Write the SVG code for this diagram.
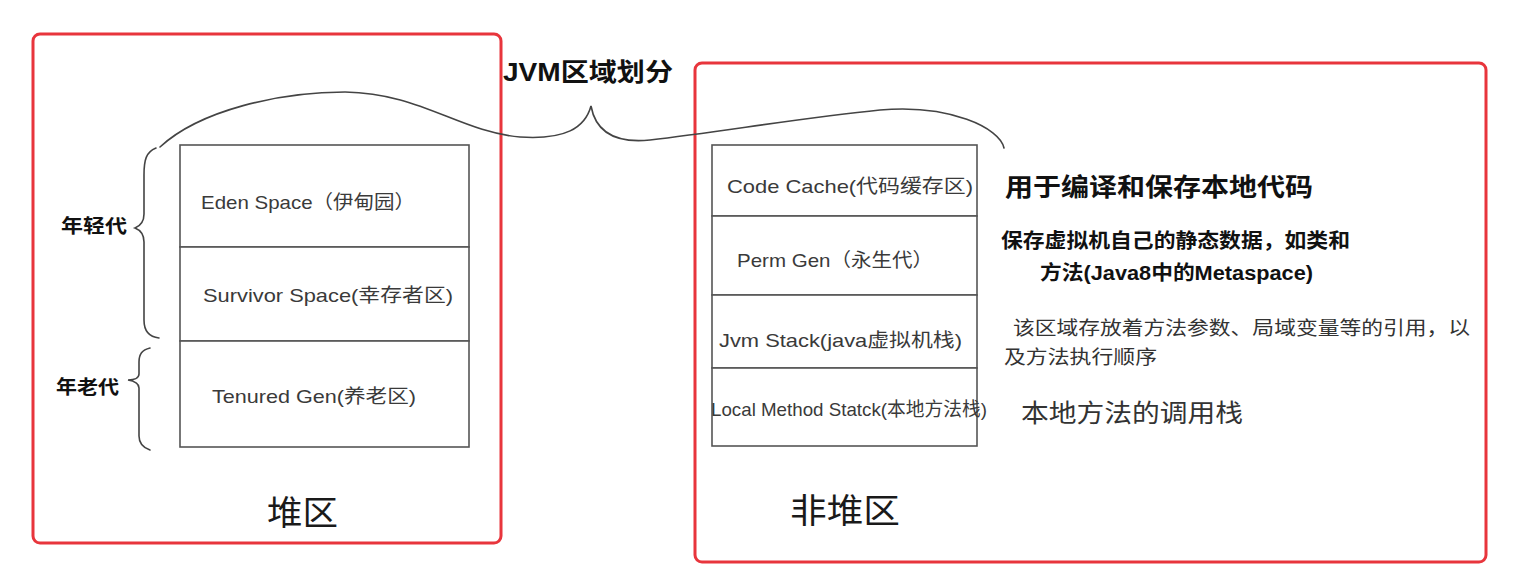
<svg xmlns="http://www.w3.org/2000/svg" width="1522" height="588" viewBox="0 0 1522 588">
<style>
.region{fill:none;stroke:#e8353c;stroke-width:3}
.cell{fill:#fff;stroke:#555;stroke-width:1.6}
.lbl{font-family:"Liberation Sans","Noto Sans CJK SC",sans-serif;fill:#3a3a3a;font-size:19px}
.note{font-family:"Liberation Sans","Noto Sans CJK SC",sans-serif;fill:#111;font-weight:bold}
.plain{font-family:"Liberation Sans","Noto Sans CJK SC",sans-serif;fill:#333}
.big{font-family:"Noto Sans CJK SC",sans-serif;fill:#1a1a1a;font-size:34px}
.brace{fill:none;stroke:#444;stroke-width:1.6;stroke-linecap:round}
</style>
<rect width="1522" height="588" fill="#fff"/>
<g id="heap-region">
<rect class="region" x="33" y="34" width="468" height="509" rx="7"/>
<text class="big" x="267" y="525" textLength="71" lengthAdjust="spacingAndGlyphs">堆区</text>
</g>
<g id="nonheap-region">
<rect class="region" x="695" y="63" width="791" height="499" rx="7"/>
<text class="big" x="790" y="523" textLength="110" lengthAdjust="spacingAndGlyphs">非堆区</text>
</g>
<g id="title">
<text class="note" x="503" y="81" font-size="25" textLength="170" lengthAdjust="spacingAndGlyphs">JVM区域划分</text>
</g>
<g id="eden">
<rect class="cell" x="180" y="145" width="289" height="102"/>
<text class="lbl" x="201" y="209" textLength="214" lengthAdjust="spacingAndGlyphs">Eden Space（伊甸园）</text>
</g>
<g id="survivor">
<rect class="cell" x="180" y="247" width="289" height="94"/>
<text class="lbl" x="203" y="302" textLength="250" lengthAdjust="spacingAndGlyphs">Survivor Space(幸存者区)</text>
</g>
<g id="tenured">
<rect class="cell" x="180" y="341" width="289" height="106"/>
<text class="lbl" x="212" y="403" textLength="204" lengthAdjust="spacingAndGlyphs">Tenured Gen(养老区)</text>
</g>
<g id="young-label">
<text class="note" x="61" y="233" font-size="19" textLength="66" lengthAdjust="spacingAndGlyphs">年轻代</text>
</g>
<g id="old-label">
<text class="note" x="56" y="394" font-size="19" textLength="63" lengthAdjust="spacingAndGlyphs">年老代</text>
</g>
<g id="code-cache">
<rect class="cell" x="712" y="145" width="265" height="71"/>
<text class="lbl" x="727" y="193" textLength="246" lengthAdjust="spacingAndGlyphs">Code Cache(代码缓存区)</text>
</g>
<g id="perm-gen">
<rect class="cell" x="712" y="216" width="265" height="79"/>
<text class="lbl" x="737" y="267" textLength="196" lengthAdjust="spacingAndGlyphs">Perm Gen（永生代）</text>
</g>
<g id="jvm-stack">
<rect class="cell" x="712" y="295" width="265" height="73"/>
<text class="lbl" x="719" y="347" textLength="243" lengthAdjust="spacingAndGlyphs">Jvm Stack(java虚拟机栈)</text>
</g>
<g id="local-method-stack">
<rect class="cell" x="712" y="368" width="265" height="78"/>
<text class="lbl" x="711" y="416" font-size="16" textLength="276" lengthAdjust="spacingAndGlyphs">Local Method Statck(本地方法栈)</text>
</g>
<g id="note-code-cache">
<text class="note" x="1005" y="196" font-size="25" textLength="308" lengthAdjust="spacingAndGlyphs">用于编译和保存本地代码</text>
</g>
<g id="note-perm-gen">
<text class="note" x="1001" y="248" font-size="20" textLength="349" lengthAdjust="spacingAndGlyphs">保存虚拟机自己的静态数据，如类和</text>
<text class="note" x="1040" y="280" font-size="20" textLength="273" lengthAdjust="spacingAndGlyphs">方法(Java8中的Metaspace)</text>
</g>
<g id="note-jvm-stack">
<text class="plain" x="1013" y="335" font-size="19" textLength="457" lengthAdjust="spacingAndGlyphs">该区域存放着方法参数、局域变量等的引用，以</text>
<text class="plain" x="1004" y="364" font-size="19" textLength="153" lengthAdjust="spacingAndGlyphs">及方法执行顺序</text>
</g>
<g id="note-local-method-stack">
<text class="plain" x="1021" y="422" font-size="25" fill="#111" textLength="222" lengthAdjust="spacingAndGlyphs">本地方法的调用栈</text>
</g>
<g id="connectors">
<path class="brace" d="M160,147 C200,110 280,92 345,92 C420,93 460,132 520,137 C565,140 585,128 591,106 C595,128 610,144 650,140 C720,132 800,118 880,110 C950,104 1000,128 1004,148"/>
<path class="brace" d="M156,148 C146,152 144,160 144,175 L144,214 C144,222 140,226 135,228 C140,230 144,234 144,242 L144,320 C144,332 150,337 159,338"/>
<path class="brace" d="M150,348 C142,350 139,354 139,362 L139,374 C139,378 134,380 128,380 C134,381 139,383 139,388 L139,436 C139,444 144,448 150,450"/>
</g>
</svg>
